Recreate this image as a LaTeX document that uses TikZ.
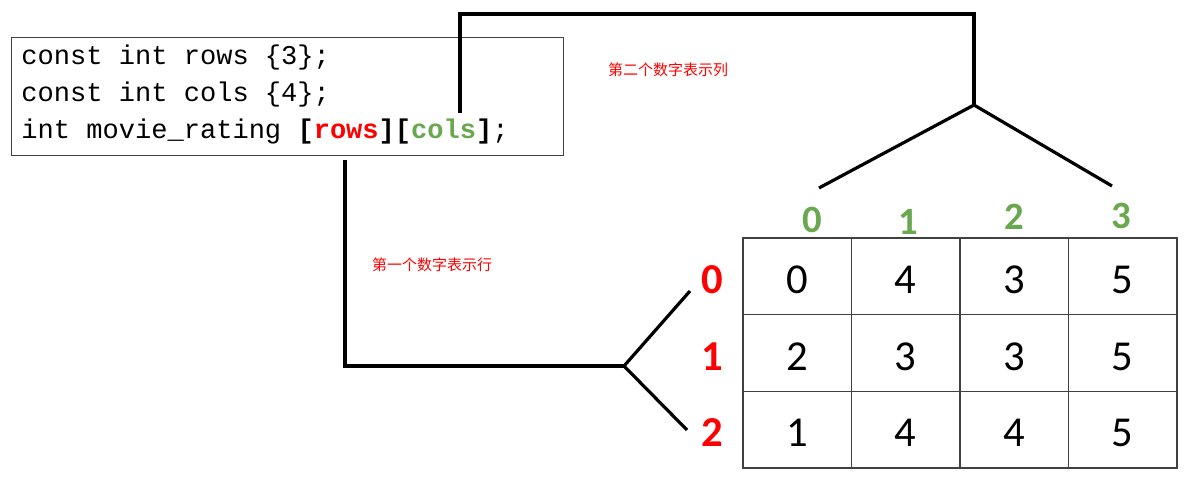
\documentclass[tikz,border=0pt]{standalone}
\usepackage{fontspec}
\usepackage{tikz}
\usetikzlibrary{positioning}
\setmainfont{Carlito}
\newfontfamily\codefont{Liberation Mono}
\newfontfamily\cnfont{Noto Sans CJK SC}
\definecolor{rowred}{RGB}{255,0,0}
\definecolor{colgreen}{RGB}{106,168,79}
\definecolor{linegray}{RGB}{64,64,64}

\begin{document}
\begin{tikzpicture}[
            x = 0.75pt, % one pixel
            y = -0.75pt, % counted downwards
            line join = miter,
            semithick % line style
            ]

        \tikzstyle{code box}=[
            draw = linegray,
            line width = 0.9pt,
            fill = white,
            minimum width = 414pt,
            minimum height = 88pt,
            inner sep = 0pt
        ]
        \tikzstyle{code line}=[anchor = base west, inner sep = 0pt, font = \codefont\fontsize{20.3}{24}\selectfont]
        \tikzstyle{cell}=[
            draw = linegray,
            line width = 1.1pt,
            minimum width = 81.375pt,
            minimum height = 57.5pt,
            inner sep = 0pt,
            outer sep = 0pt,
            text height = 26pt,
            text depth = 0pt,
            font = \fontsize{32}{36}\selectfont
        ]
        \tikzstyle{row index}=[text = rowred, inner sep = 0pt, text height = 26pt, text depth = 0pt, font = \bfseries\fontsize{32}{36}\selectfont]
        \tikzstyle{col index}=[text = colgreen, inner sep = 0pt, font = \bfseries\fontsize{29}{32}\selectfont]
        \tikzstyle{note}=[text = rowred, inner sep = 0pt, font = \cnfont\fontsize{11.25}{13}\selectfont]
        \tikzstyle{link}=[line width = 2.4pt]

	\fill[white] (0,0) rectangle (1186,488);

	% declaration
	\node[code box] (code) at (287.5,96.5) {};
	\node[code line] (line1) at (21,65) {const int rows \{3\};};
	\node[code line] (line2) at (21,102) {const int cols \{4\};};
	\node[code line] (line3) at (21,139) {int movie\_rating {\bfseries[\textcolor{rowred}{rows}][\textcolor{colgreen}{cols}]};};

	% array cells
	\node[cell] (c00) at (797.25,276.33) {0};
         \node[cell] (c01) [right = 0pt of c00] {4};
         \node[cell] (c02) [right = 0pt of c01] {3};
         \node[cell] (c03) [right = 0pt of c02] {5};

	\node[cell] (c10) [below = 0pt of c00] {2};
         \node[cell] (c11) [right = 0pt of c10] {3};
         \node[cell] (c12) [right = 0pt of c11] {3};
         \node[cell] (c13) [right = 0pt of c12] {5};

	\node[cell] (c20) [below = 0pt of c10] {1};
         \node[cell] (c21) [right = 0pt of c20] {4};
         \node[cell] (c22) [right = 0pt of c21] {4};
         \node[cell] (c23) [right = 0pt of c22] {5};

        % indices
         \node[row index] (r0) [left = 14.4pt of c00] {0};
         \node[row index] (r1) [left = 14.4pt of c10] {1};
         \node[row index] (r2) [left = 14.4pt of c20] {2};

         \node[col index] (k0) at (812,220) {0};
         \node[col index] (k1) at (908,222) {1};
         \node[col index] (k2) at (1014,217) {2};
         \node[col index] (k3) at (1121,216) {3};

        % notes
         \node[note] (colnote) at (668,70) {第二个数字表示列};
         \node[note] (rownote) at (432,265) {第一个数字表示行};

          % second index to columns
         \coordinate (cols) at (460,113);
         \coordinate (cols top) at (460,14);
         \coordinate (fork top) at (974,14);
         \coordinate (col fork) at (974,105);
         \coordinate (col first) at (819,188);
         \coordinate (col last) at (1112,186);
         \draw[link] (cols) -- (cols top) -- (fork top) -- (col fork);
         \draw[link] (col first) -- (col fork) -- (col last);

          % first index to rows
         \coordinate (rows) at (345,160);
         \coordinate (rows corner) at (345,366);
         \coordinate (row fork) at (624,366);
         \coordinate (row first) at (690,291);
         \coordinate (row last) at (687,430);
         \draw[link] (rows) -- (rows corner) -- (row fork);
         \draw[link] (row first) -- (row fork) -- (row last);

  \end{tikzpicture}
\end{document}
